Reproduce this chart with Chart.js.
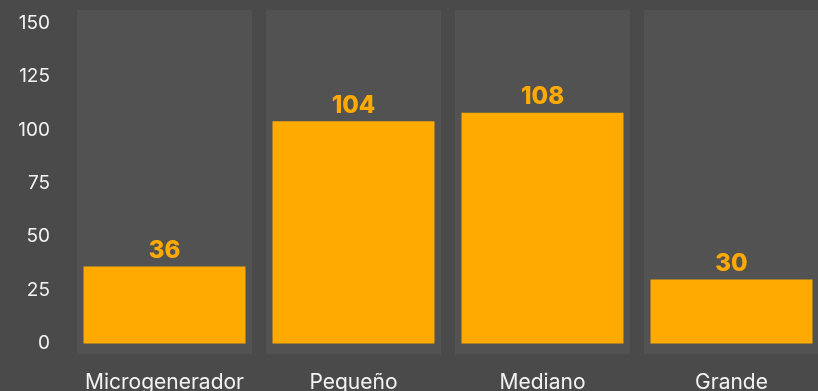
<!DOCTYPE html>
<html>
<head>
<meta charset="utf-8">
<script src="https://cdn.jsdelivr.net/npm/chart.js@4"></script>
<style>
  html, body { margin: 0; padding: 0; background: #4a4a4a; overflow: hidden; }
  #wrap { position: absolute; left: 0; top: 0; width: 830px; height: 410px; }
</style>
</head>
<body>
<div id="wrap"><canvas id="c" width="830" height="410"></canvas></div>
<script>
// Plant counts per size class
const categories = ['Microgenerador', 'Pequeño', 'Mediano', 'Grande'];
const plantCounts = [36, 104, 108, 30];
const yTicks = [0, 25, 50, 75, 100, 125, 150];

// Value range of the plot area (a little beyond the labelled ticks)
const Y_MIN = -5.15;
const Y_MAX = 156.1;

const ORANGE = '#FFAA00';
const PANEL = '#525252';
const TEXT = '#f2f2f2';
const FONT = 'Inter, "Noto Sans", sans-serif';

// Value labels above each bar
const valueLabels = {
  id: 'valueLabels',
  afterDatasetsDraw(chart) {
    const meta = chart.getDatasetMeta(1);
    const ctx = chart.ctx;
    ctx.save();
    ctx.fillStyle = ORANGE;
    ctx.font = '800 24px ' + FONT;
    ctx.textAlign = 'center';
    ctx.textBaseline = 'middle';
    meta.data.forEach((bar, i) => {
      ctx.fillText(String(plantCounts[i]), bar.x, bar.y - 16);
    });
    ctx.restore();
  }
};

new Chart(document.getElementById('c'), {
  type: 'bar',
  data: {
    labels: categories,
    datasets: [
      {
        // background panel behind each category
        data: categories.map(() => [Y_MIN, Y_MAX]),
        backgroundColor: PANEL,
        barPercentage: 0.926,
        categoryPercentage: 1,
        grouped: false,
        order: 2
      },
      {
        data: plantCounts,
        backgroundColor: ORANGE,
        barPercentage: 0.857,
        categoryPercentage: 1,
        grouped: false,
        order: 1
      }
    ]
  },
  options: {
    responsive: false,
    animation: false,
    layout: { padding: { top: 10, right: 4, left: 17, bottom: 0 } },
    plugins: { legend: { display: false }, tooltip: { enabled: false } },
    scales: {
      x: {
        grid: { display: false },
        border: { display: false },
        afterFit(scale) {
          scale.height = 55.5;
          scale.paddingLeft = 0;
          scale.paddingRight = 0;
        },
        ticks: { color: TEXT, font: { family: FONT, size: 21 }, padding: 8, maxRotation: 0, autoSkip: false }
      },
      y: {
        min: Y_MIN,
        max: Y_MAX,
        grid: { display: false },
        border: { display: false },
        afterBuildTicks(scale) { scale.ticks = yTicks.map(v => ({ value: v })); },
        afterFit(scale) {
          scale.width = 53;
          scale.paddingTop = 0;
          scale.paddingBottom = 0;
        },
        ticks: { color: TEXT, font: { family: FONT, size: 19 }, padding: 12 }
      }
    }
  },
  plugins: [valueLabels]
});
</script>
</body>
</html>
